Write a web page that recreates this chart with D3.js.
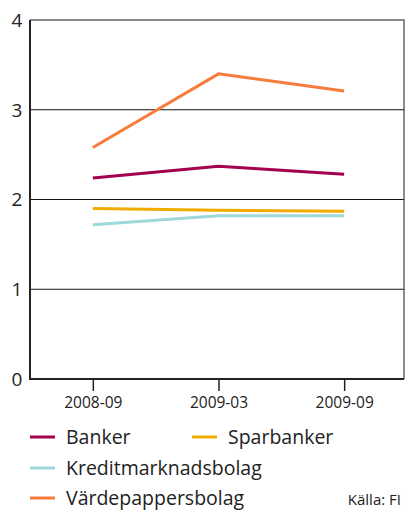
<!DOCTYPE html>
<html>
<head>
<meta charset="utf-8">
<script src="https://cdn.jsdelivr.net/npm/d3@7"></script>
<style>
  html, body { margin: 0; padding: 0; background: #fff; }
  svg { display: block; font-family: "Open Sans", "Noto Sans", sans-serif; }
</style>
</head>
<body>
<svg id="chart" width="405" height="510"></svg>
<script>
// Periods on the x axis
const periods = ["2008-09", "2009-03", "2009-09"];
// Series values per period
const banker = [2.24, 2.37, 2.28];
const sparbanker = [1.90, 1.88, 1.87];
const kreditmarknadsbolag = [1.72, 1.82, 1.82];
const vardepappersbolag = [2.58, 3.40, 3.21];
// Y axis ticks
const yTicks = [0, 1, 2, 3, 4];

const seriesNames = ["Banker", "Sparbanker", "Kreditmarknadsbolag", "Värdepappersbolag"];
const seriesColors = ["#a3004f", "#f0ac00", "#9ed8d8", "#f77b3a"];
const seriesValues = [banker, sparbanker, kreditmarknadsbolag, vardepappersbolag];

const svg = d3.select("#chart");
const plotLeft = 30, plotRight = 404, plotTop = 20, plotBottom = 379;

const x = d3.scaleBand().domain(periods).range([plotLeft, 407]);
const y = d3.scaleLinear().domain([0, 4]).range([plotBottom, plotTop]);
const cx = d => x(d) + x.bandwidth() / 2;

// Horizontal grid lines
svg.append("g").selectAll("line")
  .data(yTicks.filter(t => t > 0 && t < 4))
  .join("line")
  .attr("x1", plotLeft).attr("x2", 405)
  .attr("y1", d => y(d)).attr("y2", d => y(d))
  .attr("stroke", "#111").attr("stroke-width", 1);

// Frame: top and right
svg.append("path")
  .attr("d", `M${plotLeft},${y(4)}H${plotRight}V${plotBottom}`)
  .attr("fill", "none").attr("stroke", "#666").attr("stroke-width", 1.5);

// Y axis labels
svg.append("g").selectAll("text")
  .data(yTicks).join("text")
  .attr("x", 17).attr("y", d => y(d))
  .attr("dy", "0.36em")
  .attr("text-anchor", "middle")
  .attr("font-size", 19).attr("fill", "#222")
  .text(d => d);

// X axis
const xAxis = d3.axisBottom(d3.scalePoint().domain(periods).range([cx(periods[0]), cx(periods[2])]))
  .tickSize(12).tickSizeOuter(0).tickPadding(6);
const gx = svg.append("g").attr("transform", `translate(0,${plotBottom})`).call(xAxis);
gx.select(".domain").remove();
gx.selectAll(".tick line").attr("stroke", "#222").attr("stroke-width", 1.5);
gx.selectAll(".tick text").attr("font-size", 15.5).attr("fill", "#222")
  .attr("font-family", "'Open Sans', 'Noto Sans', sans-serif");

// Left and bottom axis lines
svg.append("path")
  .attr("d", `M${plotLeft},${y(4)}V${plotBottom}H${plotRight}`)
  .attr("fill", "none").attr("stroke", "#222").attr("stroke-width", 2);

// Series lines
const line = d3.line().x((d, i) => cx(periods[i])).y(d => y(d));
svg.append("g").selectAll("path")
  .data(seriesValues).join("path")
  .attr("d", d => line(d))
  .attr("fill", "none")
  .attr("stroke", (d, i) => seriesColors[i])
  .attr("stroke-width", 3);

// Legend
const legendPos = [[30, 437], [192, 437], [30, 468], [30, 498]];
const lg = svg.append("g").selectAll("g")
  .data(seriesNames).join("g")
  .attr("transform", (d, i) => `translate(${legendPos[i][0]},${legendPos[i][1]})`);
lg.append("line").attr("x1", 0).attr("x2", 25)
  .attr("stroke", (d, i) => seriesColors[i]).attr("stroke-width", 3);
lg.append("text").attr("x", 36).attr("dy", "0.36em")
  .attr("font-size", 19.5).attr("fill", "#222").text(d => d);

// Source
svg.append("text").attr("x", 401).attr("y", 505)
  .attr("text-anchor", "end").attr("font-size", 15).attr("fill", "#222")
  .text("Källa: FI");
</script>
</body>
</html>
